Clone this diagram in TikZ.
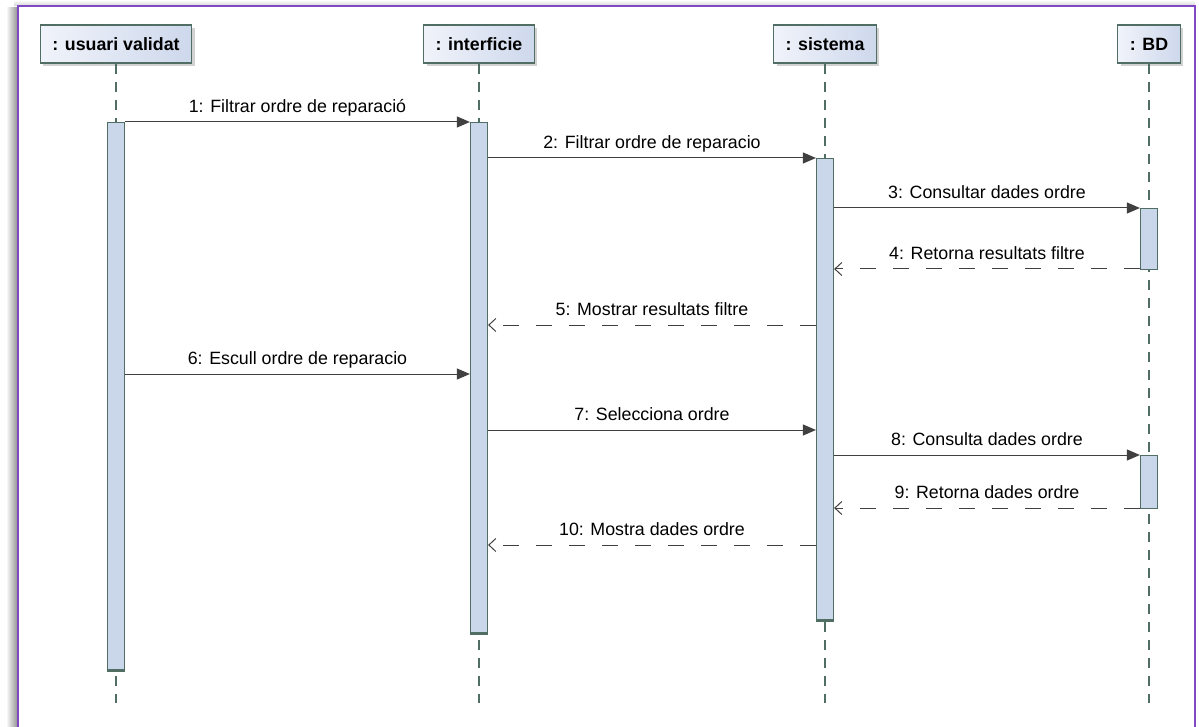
\documentclass[tikz,border=0pt]{standalone}
\usepackage{fontspec}
\setmainfont{Liberation Sans}
\usepackage{tikz}
\usetikzlibrary{arrows.meta,shadows,calc}
\definecolor{framepurple}{RGB}{128,72,196}
\definecolor{boxline}{RGB}{80,110,100}
\definecolor{barfill}{RGB}{202,214,234}
\definecolor{headleft}{RGB}{240,243,250}
\definecolor{headright}{RGB}{206,216,236}
\definecolor{msgcol}{RGB}{64,64,64}
\newcommand{\lblfont}{\fontsize{17.8}{20}\selectfont}

\begin{document}
\begin{tikzpicture}[x=1pt,y=-1pt,
        head/.style={draw=boxline,line width=1.2pt,left color=headleft,right color=headright,
            minimum height=38pt,inner xsep=12pt,font=\lblfont\bfseries,
            drop shadow={shadow xshift=3pt,shadow yshift=-3pt,fill=gray!70,opacity=.5}},
        lifeline/.style={draw=boxline,line width=1.2pt,dash pattern=on 10pt off 8pt},
        actbar/.style={draw=boxline,fill=barfill,line width=1.2pt,minimum width=17pt,anchor=north,inner sep=0pt},
        sync/.style={draw=msgcol,line width=1pt,-{Triangle[length=13pt,width=11pt]}},
        reply/.style={draw=msgcol,line width=1pt,dash pattern=on 16pt off 17pt,-{Straight Barb[length=7pt,width=13pt]}},
        lbl/.style={font=\lblfont,above=2pt,midway,text depth=4pt}]
            \useasboundingbox (0,0) rectangle (1199,727);

            \shade[left color=white,right color=gray!90] (6,8) rectangle (18,727);
            \shade[top color=white,bottom color=gray!35] (14,0) rectangle (1195,6);
            \draw[framepurple,line width=2pt] (18,727) -- (18,6) -- (1195,6) -- (1195,727);

            \node[head] (usr) at (116,44) {: usuari validat};
            \node[head] (ifc) at (479,44) {: interficie};
            \node[head] (sis) at (825,44) {: sistema};
            \node[head] (bd) at (1149,44) {: BD};

            \coordinate (m1) at (0,122);
            \coordinate (m2) at (0,158);
            \coordinate (m3) at (0,208);
            \coordinate (m4) at (0,269);
            \coordinate (m5) at (0,325);
            \coordinate (m6) at (0,374);
            \coordinate (m7) at (0,430);
            \coordinate (m8) at (0,455);
            \coordinate (m9) at (0,508);
            \coordinate (m10) at (0,545);
            \coordinate (bot) at (0,703);

            \foreach \h in {usr,ifc,sis,bd}
                \draw[lifeline] (\h.south) -- (\h |- bot);

            \node[actbar,minimum height=548pt] (aU) at (usr |- m1) {};
            \node[actbar,minimum height=511pt] (aI) at (ifc |- m1) {};
            \node[actbar,minimum height=462pt] (aS) at (sis |- m2) {};
            \node[actbar,minimum height=61pt] (aB1) at (bd |- m3) {};
            \node[actbar,minimum height=53pt] (aB2) at (bd |- m8) {};
            \foreach \b in {aU,aI,aS}
                \draw[boxline,line width=2.6pt] ($(\b.south west)+(0,-1)$) -- ($(\b.south east)+(0,-1)$);

            \draw[sync] (aU.east |- m1) -- (aI.west |- m1) node[lbl] {1: Filtrar ordre de reparació};
            \draw[sync] (aI.east |- m2) -- (aS.west |- m2) node[lbl] {2: Filtrar ordre de reparacio};
            \draw[sync] (aS.east |- m3) -- (aB1.west |- m3) node[lbl] {3: Consultar dades ordre};
            \draw[reply] (aB1.west |- m4) -- (aS.east |- m4) node[lbl] {4: Retorna resultats filtre};
            \draw[reply] (aS.west |- m5) -- (aI.east |- m5) node[lbl] {5: Mostrar resultats filtre};
            \draw[sync] (aU.east |- m6) -- (aI.west |- m6) node[lbl] {6: Escull ordre de reparacio};
            \draw[sync] (aI.east |- m7) -- (aS.west |- m7) node[lbl] {7: Selecciona ordre};
            \draw[sync] (aS.east |- m8) -- (aB2.west |- m8) node[lbl] {8: Consulta dades ordre};
            \draw[reply] (aB2.west |- m9) -- (aS.east |- m9) node[lbl] {9: Retorna dades ordre};
            \draw[reply] (aS.west |- m10) -- (aI.east |- m10) node[lbl] {10: Mostra dades ordre};
        \end{tikzpicture}
\end{document}
